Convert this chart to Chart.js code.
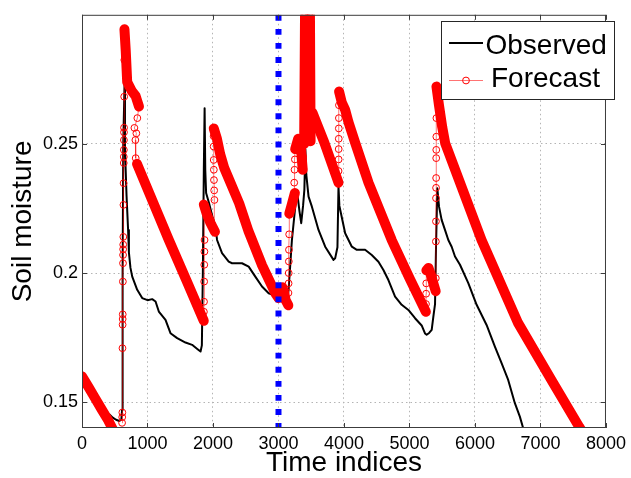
<!DOCTYPE html>
<html><head><meta charset="utf-8">
<script src="https://cdn.jsdelivr.net/npm/chart.js@4/dist/chart.umd.min.js"></script>
<style>html,body{margin:0;padding:0;background:#fff;}canvas{display:block;}</style>
</head><body>
<canvas id="c" width="631" height="478"></canvas>
<script>
// ---- data ----
const xTickValues = [0, 1000, 2000, 3000, 4000, 5000, 6000, 7000, 8000];
const yTickValues = [0.15, 0.2, 0.25];
const yTickLabels = ['0.15', '0.2', '0.25'];
const forecastStartIndex = 3000;

const observedX = [0,100,200,280,330,420,470,520,570,600,612,620,630,650,656,680,704,716,740,767,843,919,1000,1072,1123,1173,1275,1351,1453,1580,1681,1760,1810,1830,1845,1860,1872,1882,1895,1940,1990,2037,2062,2138,2240,2291,2443,2545,2646,2748,2850,2926,3000,3053,3104,3130,3154,3205,3256,3281,3320,3347,3375,3395,3410,3425,3459,3510,3611,3713,3840,3865,3900,3916,3930,3942,4018,4120,4196,4322,4424,4526,4602,4678,4780,4881,4983,5085,5186,5237,5262,5300,5339,5364,5390,5405,5425,5451,5491,5542,5593,5644,5695,5771,5898,6025,6177,6304,6406,6507,6609,6685,6736,6760];
const observedY = [0.1595,0.1550,0.1500,0.1462,0.1452,0.1452,0.1440,0.1432,0.1427,0.1432,0.1470,0.2000,0.2500,0.2736,0.2480,0.2300,0.2167,0.2080,0.2020,0.1986,0.1935,0.1903,0.1895,0.1899,0.1890,0.1851,0.1819,0.1767,0.1748,0.1731,0.1722,0.1706,0.1696,0.1720,0.2000,0.2400,0.2638,0.2400,0.2310,0.2270,0.2220,0.2180,0.2128,0.2077,0.2044,0.2038,0.2038,0.2025,0.1986,0.1948,0.1922,0.1915,0.1905,0.1890,0.1883,0.1890,0.1935,0.2128,0.2257,0.2322,0.2240,0.2193,0.2260,0.2322,0.2480,0.2380,0.2296,0.2257,0.2167,0.2102,0.2051,0.2057,0.2100,0.2335,0.2260,0.2245,0.2154,0.2102,0.2090,0.2090,0.2070,0.2044,0.2012,0.1973,0.1909,0.1877,0.1857,0.1825,0.1797,0.1766,0.1761,0.1768,0.1780,0.1830,0.1880,0.2100,0.2328,0.2257,0.2206,0.2167,0.2128,0.2102,0.2064,0.2032,0.1961,0.1877,0.1799,0.1715,0.1651,0.1586,0.1496,0.1444,0.1399,0.1380];

const forecastX = [0,100,200,300,400,470,540,612,614,616,618,620,621,622,624,626,627,628,629,631,633,635,637,638,639,640,641,642,644,646,648,668,690,760,820,870,845,800,830,815,820,840,1100,1326,1600,1859,1861,1863,1865,1867,1869,1871,1860,1910,1960,2030,2022,2018,2015,2013,2011,2010,2010,2012,2060,2110,2170,2400,2545,2750,2951,3000,3030,3060,3085,3110,3150,3152,3154,3156,3158,3160,3163,3165,3200,3250,3240,3245,3250,3255,3300,3340,3370,3375,3392,3405,3480,3490,3505,3520,3700,3916,3917,3918,3919,3920,3921,3922,3923,3925,3967,4018,4068,4170,4374,4728,5000,5250,5252,5254,5256,5258,5290,5330,5370,5400,5402,5403,5404,5405,5406,5407,5408,5409,5410,5411,5412,5450,5500,5545,6100,6659,7167,7590,7640];
const forecastY = [0.1600,0.1558,0.1515,0.1472,0.1430,0.1395,null,0.1420,0.1442,0.1460,0.1709,0.1800,0.1822,0.1840,0.1967,0.2038,0.2070,0.2092,0.2110,0.2140,0.2264,0.2348,0.2426,0.2450,0.2477,0.2515,0.2545,0.2563,0.2683,0.2825,0.2944,0.2860,0.2740,0.2705,0.2685,0.2645,0.2600,0.2562,0.2541,0.2515,0.2445,0.2423,0.2265,0.2128,0.1968,0.1815,0.1850,0.1889,0.1967,0.2032,0.2083,0.2128,0.2265,0.2225,0.2195,0.2160,0.2283,0.2320,0.2360,0.2400,0.2438,0.2490,0.2530,0.2560,0.2520,0.2460,0.2408,0.2270,0.2160,0.2030,0.1922,0.1903,0.1925,0.1945,0.1925,0.1895,0.1875,0.1923,0.1960,0.2000,0.2045,0.2090,0.2150,0.2230,0.2262,0.2310,0.2350,0.2400,0.2440,0.2480,0.2520,0.2490,0.2400,0.2450,0.2500,0.2996,0.3010,0.2510,0.2565,0.2620,0.2505,0.2350,0.2395,0.2440,0.2480,0.2520,0.2560,0.2600,0.2650,0.2703,0.2660,0.2632,0.2585,0.2505,0.2350,0.2128,0.1980,0.1850,0.1880,0.1920,0.1960,0.2010,0.2020,0.1990,0.1955,0.1930,0.1980,0.2122,0.2200,0.2290,0.2330,0.2368,0.2445,0.2477,0.2528,0.2600,0.2722,0.2650,0.2565,0.2503,0.2128,0.1806,0.1586,0.1405,0.1385];
// 1 = the forecast circles from this point to the next are packed densely (they merge into a band)
const forecastDense = [1,1,1,1,1,0,0,0,0,0,0,0,0,0,0,0,0,0,0,0,0,0,0,0,0,0,0,0,0,0,1,1,1,1,1,0,0,0,0,0,0,1,1,1,1,0,0,0,0,0,0,0,1,1,1,0,0,0,0,0,0,0,0,1,1,1,1,1,1,1,1,1,1,1,1,1,0,0,0,0,0,0,0,1,1,0,0,0,0,1,1,1,0,0,1,0,1,0,0,1,1,0,0,0,0,0,0,0,0,1,1,1,1,1,1,1,1,0,0,0,0,1,1,1,1,0,0,0,0,0,0,0,0,0,0,0,1,1,1,1,1,1,1,1,0];

// ---- build chart ----
const toPts = (xs, ys) => xs.map((x, i) => ({x: x, y: ys[i]}));
const observedPts = toPts(observedX, observedY);
const forecastPts = toPts(forecastX, forecastY);
const noClip = {left: 0, top: 0, right: 0, bottom: 0};
const FONT = "'Liberation Sans', Arial, Helvetica, sans-serif";
const RED = '#ff0000';

const boxPlugin = {
  id: 'matlabBox',
  afterDatasetsDraw(chart) {
    const {ctx, chartArea: a, scales: {x, y}} = chart;
    ctx.save();
    ctx.strokeStyle = '#3c3c3c';
    ctx.lineWidth = 1;
    ctx.setLineDash([]);
    ctx.beginPath();
    xTickValues.forEach(v => {
      const px = Math.round(x.getPixelForValue(v)) + 0.5;
      ctx.moveTo(px, a.bottom); ctx.lineTo(px, a.bottom - 5);
      ctx.moveTo(px, a.top); ctx.lineTo(px, a.top + 5);
    });
    yTickValues.forEach(v => {
      const py = Math.round(y.getPixelForValue(v)) + 0.5;
      ctx.moveTo(a.left, py); ctx.lineTo(a.left + 5, py);
      ctx.moveTo(a.right, py); ctx.lineTo(a.right - 5, py);
    });
    ctx.stroke();
    ctx.strokeRect(a.left + 0.5, a.top + 0.5, a.right - a.left - 1, a.bottom - a.top - 1);

    // legend
    const L = 441.5, T = 21.5, W = 173, H = 78;
    ctx.fillStyle = '#fff';
    ctx.fillRect(L, T, W, H);
    ctx.strokeStyle = '#262626';
    ctx.strokeRect(L, T, W, H);
    ctx.strokeStyle = '#000'; ctx.lineWidth = 2;
    ctx.beginPath(); ctx.moveTo(449, 43); ctx.lineTo(483, 43); ctx.stroke();
    ctx.strokeStyle = 'rgba(255,0,0,0.55)'; ctx.lineWidth = 1;
    ctx.beginPath(); ctx.moveTo(449, 80.5); ctx.lineTo(483, 80.5); ctx.stroke();
    ctx.strokeStyle = RED;
    ctx.beginPath(); ctx.arc(466, 80.5, 3.4, 0, Math.PI * 2); ctx.stroke();
    ctx.fillStyle = '#000';
    ctx.font = '28px ' + FONT;
    ctx.textBaseline = 'alphabetic';
    ctx.textAlign = 'left';
    ctx.fillText('Observed', 485.5, 53.5);
    ctx.fillText('Forecast', 491, 87);
    ctx.restore();
  }
};

new Chart(document.getElementById('c'), {
  type: 'line',
  data: {
    datasets: [
      {
        label: 'Forecast start',
        data: [{x: forecastStartIndex, y: 0.30}, {x: forecastStartIndex, y: 0.14}],
        borderColor: '#0000ff', borderWidth: 6, borderDash: [5.9, 8.18], borderCapStyle: 'butt',
        pointRadius: 0, order: 0, clip: noClip
      },
      {
        label: 'Forecast',
        data: forecastPts,
        borderColor: 'rgba(255,0,0,0.55)', borderWidth: 1,
        pointRadius: 3.4, pointBorderWidth: 1, pointBorderColor: RED,
        pointBackgroundColor: 'rgba(0,0,0,0)', pointStyle: 'circle',
        spanGaps: false, order: 1, clip: noClip
      },
      {
        label: 'Forecast band',
        data: forecastPts,
        borderColor: RED, borderWidth: 10, borderCapStyle: 'round', borderJoinStyle: 'round',
        segment: {
          borderColor: c => forecastDense[c.p0DataIndex] ? RED : 'rgba(0,0,0,0)'
        },
        pointRadius: 0, spanGaps: false, order: 2, clip: noClip
      },
      {
        label: 'Observed',
        data: observedPts,
        borderColor: '#000', borderWidth: 2, borderJoinStyle: 'round',
        pointRadius: 0, order: 3, clip: noClip
      }
    ]
  },
  options: {
    responsive: false,
    animation: false,
    events: [],
    layout: {padding: {top: 14, right: 23, bottom: 0, left: 0}},
    plugins: {legend: {display: false}, tooltip: {enabled: false}},
    elements: {line: {tension: 0}},
    scales: {
      x: {
        type: 'linear', min: 0, max: 8000,
        afterBuildTicks: s => { s.ticks = xTickValues.map(v => ({value: v})); },
        afterFit: s => { s.height = 50; },
        ticks: {font: {family: FONT, size: 18}, color: '#000', padding: 5, maxRotation: 0,
                callback: v => String(v)},
        grid: {color: '#b4b4b4', lineWidth: 1, drawTicks: false},
        border: {display: false, dash: [1.5, 3]},
        title: {display: true, text: 'Time indices', color: '#000',
                font: {family: FONT, size: 28, lineHeight: 1}, padding: {top: 0, bottom: 0.4}}
      },
      y: {
        type: 'linear', min: 0.14, max: 0.30,
        afterBuildTicks: s => { s.ticks = yTickValues.map(v => ({value: v})); },
        afterFit: s => { s.width = 82; },
        ticks: {font: {family: FONT, size: 18}, color: '#000', padding: 4,
                callback: (v) => { const i = yTickValues.indexOf(v); return i >= 0 ? yTickLabels[i] : ''; }},
        grid: {color: '#b4b4b4', lineWidth: 1, drawTicks: false},
        border: {display: false, dash: [1.5, 3]},
        title: {display: true, text: 'Soil moisture', color: '#000',
                font: {family: FONT, size: 28, lineHeight: 1}, padding: {top: 9.6, bottom: 0}}
      }
    }
  },
  plugins: [boxPlugin]
});
</script>
</body></html>
